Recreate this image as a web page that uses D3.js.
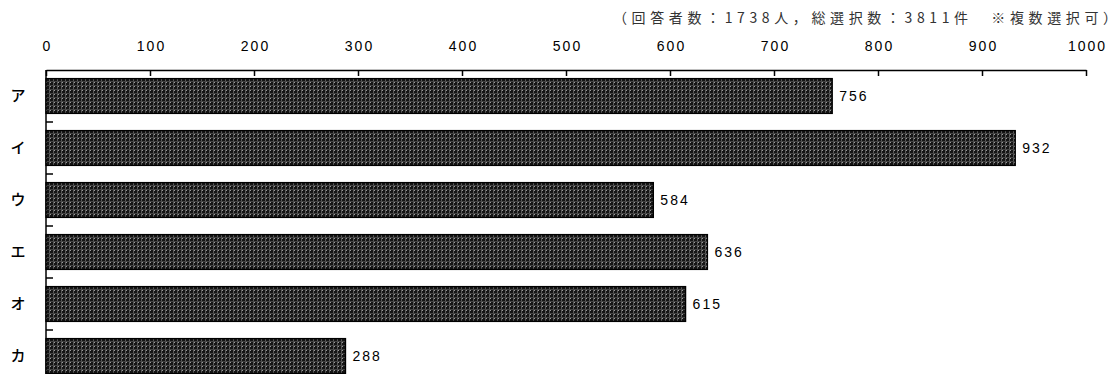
<!DOCTYPE html>
<html><head><meta charset="utf-8">
<script src="https://cdn.jsdelivr.net/npm/d3@7"></script>
<style>
html,body{margin:0;padding:0;background:#fff;}
svg{display:block;}
</style></head>
<body>
<svg id="chart" width="1120" height="374"></svg>
<script>
const categories = ["ア","イ","ウ","エ","オ","カ"];
const values = [756, 932, 584, 636, 615, 288];
const tickValues = [0,100,200,300,400,500,600,700,800,900,1000];
const note = "（回答者数：1738人，総選択数：3811件　※複数選択可）";

(function(){
const svg = d3.select("#chart");
const mLeft = 46, mRight = 1086, mTop = 70, mBottom = 382;

const defs = svg.append("defs");
const pat = defs.append("pattern").attr("id","hatch").attr("patternUnits","userSpaceOnUse")
  .attr("width",4).attr("height",4);
pat.append("rect").attr("width",4).attr("height",4).attr("fill","#151515");
pat.append("rect").attr("x",1).attr("y",0).attr("width",1).attr("height",4).attr("fill","#5a5a5a");
pat.append("rect").attr("x",0).attr("y",1).attr("width",4).attr("height",1).attr("fill","#444");
pat.append("rect").attr("x",2).attr("y",2).attr("width",1).attr("height",1).attr("fill","#9a9a9a");

const x = d3.scaleLinear().domain([0,1000]).range([mLeft,mRight]);
const y = d3.scaleBand().domain(categories).range([mTop,mBottom]).paddingInner(0.33).paddingOuter(0.165);

svg.append("text").attr("x",1117).attr("y",23).attr("text-anchor","end")
  .attr("textLength",504).attr("lengthAdjust","spacing")
  .style("font-family","'Noto Sans CJK JP', sans-serif").style("font-size","14px").style("fill","#333")
  .text(note);

const ax = svg.append("g").attr("transform",`translate(0,${mTop})`)
  .call(d3.axisTop(x).tickValues(tickValues).tickFormat(d3.format("d")).tickSizeInner(-6).tickSizeOuter(0).tickPadding(19));
ax.select(".domain").attr("stroke","#000").attr("stroke-width",1.5);
ax.selectAll(".tick line").attr("stroke","#000").attr("stroke-width",1.5);
ax.selectAll(".tick text").attr("dy","0").attr("dx","1")
  .style("font-family","'Liberation Sans', Arial, sans-serif").style("font-size","14px")
  .style("letter-spacing","2px").style("fill","#000");

svg.append("line").attr("x1",mLeft).attr("x2",mLeft).attr("y1",mTop).attr("y2",mBottom)
  .attr("stroke","#000").attr("stroke-width",1.5);
svg.selectAll("line.sep").data(categories.slice(1)).enter().append("line").attr("class","sep")
  .attr("x1",mLeft).attr("x2",mLeft+7)
  .attr("y1",d=>y(d)-y.step()*y.paddingInner()/2).attr("y2",d=>y(d)-y.step()*y.paddingInner()/2)
  .attr("stroke","#000").attr("stroke-width",1.5);

svg.selectAll("text.cat").data(categories).enter().append("text").attr("class","cat")
  .attr("x",18).attr("y",d=>y(d)+y.bandwidth()/2).attr("dy","0.36em").attr("text-anchor","middle")
  .style("font-family","'Noto Sans CJK JP', sans-serif").style("font-size","15px").style("font-weight","500").style("fill","#000")
  .text(d=>d);

svg.selectAll("rect.bar").data(values).enter().append("rect").attr("class","bar")
  .attr("x",x(0)).attr("y",(d,i)=>y(categories[i]))
  .attr("width",d=>x(d)-x(0)).attr("height",y.bandwidth())
  .attr("fill","url(#hatch)").attr("stroke","#000").attr("stroke-width",1.3);

svg.selectAll("text.val").data(values).enter().append("text").attr("class","val")
  .attr("x",d=>x(d)+7).attr("y",(d,i)=>y(categories[i])+y.bandwidth()/2).attr("dy","0.36em")
  .style("font-family","'Liberation Sans', Arial, sans-serif").style("font-size","14px")
  .style("letter-spacing","2px").style("fill","#000")
  .text(d=>d);
})();
</script>
</body></html>
